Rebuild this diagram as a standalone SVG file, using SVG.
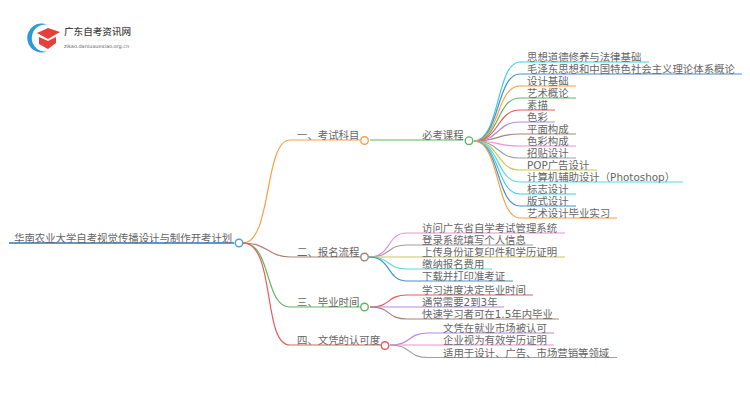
<svg xmlns="http://www.w3.org/2000/svg" width="750" height="410" viewBox="0 0 750 410">
<style>
text{font-family:"DejaVu Sans","Noto Sans CJK SC",sans-serif;font-size:10.4px;fill:#666}
.brand{font-family:"Noto Sans CJK SC",sans-serif;font-size:9.6px;font-weight:500;fill:#444}
.url{font-family:"DejaVu Sans",sans-serif;font-size:5px;fill:#666}
path,line,circle{fill:none;stroke-width:1.2}
circle{fill:#fff;stroke-width:1.4}
.o{stroke:#ff9f45}.br{stroke:#a9837a}.g{stroke:#5cb85c}.r{stroke:#ec5a5a}.c{stroke:#3fcfe0}.b{stroke:#4a90d0}.p{stroke:#b48ae0}.k{stroke:#f08fd8}.y{stroke:#a0a0a0}.l{stroke:#c9c94f}.a{stroke:#5dd8e8}.rt{stroke:#5b9bd5}
</style>
<rect width="750" height="410" fill="#fff"/>
<g id="logo">
<path d="M47 24.500A14.500 14.500 0 1 0 47 51.500A13.600 13.600 0 1 1 47 24.500Z" style="fill:#2a9ad8;stroke:none"/>
<path d="M37 33L48 28L60 32L48 39Z" style="fill:#e5403a;stroke:none"/>
<path d="M39 37L48 41L56 37V43L48 49L39 44Z" style="fill:#e5403a;stroke:none"/>
<text class="brand" x="64" y="35">广东自考资讯网</text>
<line x1="63" y1="40" x2="131" y2="40" style="stroke:#e4e4e4;stroke-width:.6"/>
<text class="url" x="64" y="48">zikao.daniuxuexiao.org.cn</text>
</g>
<g id="connectors">
<path class="o" d="M243 243C272 243 264 140 290 140"/>
<path class="br" d="M243 243C268 243 268 257 290 257"/>
<path class="g" d="M243 243C272 243 264 307 290 307"/>
<path class="r" d="M243 243C276 243 262 345 290 345"/>
<path class="g" d="M370 140H463"/>
<path class="c" d="M474 141C500 141 496 62 520 62"/>
<path class="b" d="M474 141C500 141 496 74 520 74"/>
<path class="o" d="M474 141C500 141 496 86 520 86"/>
<path class="g" d="M474 141C500 141 496 98 520 98"/>
<path class="r" d="M474 141C500 141 496 110 520 110"/>
<path class="p" d="M474 141C500 141 496 122 520 122"/>
<path class="br" d="M474 141C500 141 496 134 520 134"/>
<path class="k" d="M474 141C500 141 496 146 520 146"/>
<path class="y" d="M474 141C500 141 496 158 520 158"/>
<path class="l" d="M474 141C500 141 496 170 520 170"/>
<path class="a" d="M474 141C500 141 496 182 520 182"/>
<path class="c" d="M474 141C500 141 496 194 520 194"/>
<path class="b" d="M474 141C500 141 496 206 520 206"/>
<path class="o" d="M474 141C500 141 496 218 520 218"/>
<path class="k" d="M369 257C392 257 386 233 407 233"/>
<path class="y" d="M369 257C392 257 386 245 407 245"/>
<path class="l" d="M369 257H407"/>
<path class="a" d="M369 257C392 257 386 269 407 269"/>
<path class="b" d="M369 257C392 257 386 281 407 281"/>
<path class="r" d="M370 307C392 307 386 295 407 295"/>
<path class="p" d="M370 307H407"/>
<path class="br" d="M370 307C392 307 386 319 407 319"/>
<path class="p" d="M390 345C412 345 407 333 428 333"/>
<path class="k" d="M390 345H428"/>
<path class="y" d="M390 345C412 345 407 357.500 428 357.500"/>
</g>
<g id="root"><line class="rt" x1="9" y1="243" x2="234" y2="243" style="stroke-width:2.2"/><circle class="rt" cx="239" cy="243" r="3.800"/><text x="14" y="241.500">华南农业大学自考视觉传播设计与制作开考计划</text></g>
<g id="b1"><line class="o" x1="290" y1="140" x2="360" y2="140"/><circle class="o" cx="364.500" cy="140.500" r="3.800"/><text x="297" y="138.500">一、考试科目</text></g>
<g id="b2"><line class="br" x1="290" y1="257" x2="360" y2="257"/><circle class="br" cx="364.500" cy="257" r="3.800"/><text x="297" y="255.500">二、报名流程</text></g>
<g id="b3"><line class="g" x1="290" y1="307" x2="360" y2="307"/><circle class="g" cx="364.500" cy="307" r="3.800"/><text x="297" y="305.500">三、毕业时间</text></g>
<g id="b4"><line class="r" x1="290" y1="345" x2="381" y2="345"/><circle class="r" cx="385" cy="345.500" r="3.800"/><text x="297" y="343.500">四、文凭的认可度</text></g>
<g id="required"><circle class="g" cx="469" cy="140.700" r="3.800"/><text x="422" y="138.500">必考课程</text></g>
<g id="n1"><line class="c" x1="520" y1="62" x2="649" y2="62"/><text x="527" y="61">思想道德修养与法律基础</text></g>
<g id="n2"><line class="b" x1="520" y1="74" x2="742" y2="74"/><text x="527" y="73">毛泽东思想和中国特色社会主义理论体系概论</text></g>
<g id="n3"><line class="o" x1="520" y1="86" x2="576" y2="86"/><text x="527" y="85">设计基础</text></g>
<g id="n4"><line class="g" x1="520" y1="98" x2="576" y2="98"/><text x="527" y="97">艺术概论</text></g>
<g id="n5"><line class="r" x1="520" y1="110" x2="555" y2="110"/><text x="527" y="109">素描</text></g>
<g id="n6"><line class="p" x1="520" y1="122" x2="555" y2="122"/><text x="527" y="121">色彩</text></g>
<g id="n7"><line class="br" x1="520" y1="134" x2="576" y2="134"/><text x="527" y="133">平面构成</text></g>
<g id="n8"><line class="k" x1="520" y1="146" x2="576" y2="146"/><text x="527" y="145">色彩构成</text></g>
<g id="n9"><line class="y" x1="520" y1="158" x2="576" y2="158"/><text x="527" y="157">招贴设计</text></g>
<g id="n10"><line class="l" x1="520" y1="170" x2="597" y2="170"/><text x="527" y="169">POP广告设计</text></g>
<g id="n11"><line class="a" x1="520" y1="182" x2="683" y2="182"/><text x="527" y="181">计算机辅助设计（Photoshop）</text></g>
<g id="n12"><line class="c" x1="520" y1="194" x2="576" y2="194"/><text x="527" y="193">标志设计</text></g>
<g id="n13"><line class="b" x1="520" y1="206" x2="576" y2="206"/><text x="527" y="205">版式设计</text></g>
<g id="n14"><line class="o" x1="520" y1="218" x2="617" y2="218"/><text x="527" y="217">艺术设计毕业实习</text></g>
<g id="s1"><line class="k" x1="407" y1="233" x2="565" y2="233"/><text x="422" y="232">访问广东省自学考试管理系统</text></g>
<g id="s2"><line class="y" x1="407" y1="245" x2="533" y2="245"/><text x="422" y="244">登录系统填写个人信息</text></g>
<g id="s3"><line class="l" x1="407" y1="257" x2="565" y2="257"/><text x="422" y="256">上传身份证复印件和学历证明</text></g>
<g id="s4"><line class="a" x1="407" y1="269" x2="492" y2="269"/><text x="422" y="268">缴纳报名费用</text></g>
<g id="s5"><line class="b" x1="407" y1="281" x2="513" y2="281"/><text x="422" y="280">下载并打印准考证</text></g>
<g id="t1"><line class="r" x1="407" y1="295" x2="533" y2="295"/><text x="422" y="294">学习进度决定毕业时间</text></g>
<g id="t2"><line class="p" x1="407" y1="307" x2="504" y2="307"/><text x="422" y="306">通常需要2到3年</text></g>
<g id="t3"><line class="br" x1="407" y1="319" x2="559" y2="319"/><text x="422" y="318">快速学习者可在1.5年内毕业</text></g>
<g id="d1"><line class="p" x1="428" y1="333" x2="554" y2="333"/><text x="443" y="332">文凭在就业市场被认可</text></g>
<g id="d2"><line class="k" x1="428" y1="345" x2="554" y2="345"/><text x="443" y="344">企业视为有效学历证明</text></g>
<g id="d3"><line class="y" x1="428" y1="357.500" x2="617" y2="357.500"/><text x="443" y="356.500">适用于设计、广告、市场营销等领域</text></g>
</svg>
